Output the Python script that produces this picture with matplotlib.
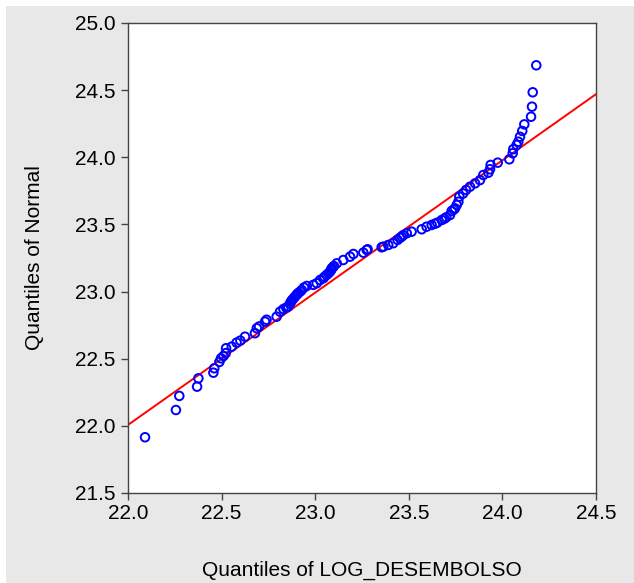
import matplotlib
matplotlib.use("Agg")
import matplotlib.pyplot as plt
from matplotlib.patches import Rectangle

x_quant = [22.091, 22.256, 22.274, 22.369, 22.376, 22.456, 22.461, 22.488, 22.497, 22.510,
           22.522, 22.524, 22.554, 22.580, 22.600, 22.625, 22.678, 22.688, 22.700, 22.732,
           22.740, 22.794, 22.812, 22.830, 22.845, 22.856, 22.865, 22.870, 22.874, 22.880,
           22.885, 22.892, 22.900, 22.905, 22.910, 22.920, 22.928, 22.940, 22.955, 22.990,
           23.008, 23.026, 23.043, 23.050, 23.061, 23.070, 23.079, 23.085, 23.088, 23.095,
           23.100, 23.115, 23.150, 23.186, 23.204, 23.257, 23.275, 23.280, 23.355, 23.364,
           23.390, 23.417, 23.440, 23.453, 23.462, 23.470, 23.489, 23.515, 23.569, 23.595,
           23.622, 23.640, 23.652, 23.676, 23.690, 23.700, 23.720, 23.729, 23.740, 23.747,
           23.756, 23.765, 23.770, 23.790, 23.806, 23.827, 23.854, 23.880, 23.898, 23.925,
           23.934, 23.937, 23.975, 24.037, 24.055, 24.058, 24.076, 24.085, 24.094, 24.106,
           24.117, 24.153, 24.158, 24.162, 24.181]
y_quant = [21.915, 22.118, 22.223, 22.292, 22.354, 22.396, 22.429, 22.476, 22.503, 22.520,
           22.541, 22.578, 22.590, 22.620, 22.635, 22.664, 22.690, 22.727, 22.740, 22.776,
           22.790, 22.813, 22.850, 22.870, 22.880, 22.888, 22.910, 22.922, 22.932, 22.942,
           22.950, 22.962, 22.975, 22.982, 22.990, 23.000, 23.012, 23.030, 23.042, 23.050,
           23.062, 23.086, 23.099, 23.110, 23.124, 23.135, 23.148, 23.160, 23.173, 23.182,
           23.190, 23.210, 23.235, 23.260, 23.280, 23.290, 23.310, 23.315, 23.330, 23.335,
           23.347, 23.360, 23.385, 23.400, 23.409, 23.420, 23.434, 23.446, 23.464, 23.483,
           23.496, 23.505, 23.513, 23.533, 23.543, 23.553, 23.570, 23.600, 23.610, 23.620,
           23.645, 23.669, 23.707, 23.730, 23.757, 23.781, 23.806, 23.830, 23.868, 23.885,
           23.911, 23.943, 23.960, 23.985, 24.030, 24.060, 24.092, 24.116, 24.153, 24.196,
           24.245, 24.302, 24.377, 24.484, 24.685]

# Reference line (end points at the x-axis limits)
line_x = [22.0, 24.5]
line_y = [22.007, 24.470]

x_ticks = [22.0, 22.5, 23.0, 23.5, 24.0, 24.5]
y_ticks = [21.5, 22.0, 22.5, 23.0, 23.5, 24.0, 24.5, 25.0]

plt.rcParams['font.family'] = ['Liberation Sans', 'DejaVu Sans']

W, H = 634, 583
fig = plt.figure(figsize=(W / 100, H / 100), dpi=100)
fig.patch.set_facecolor('white')
fig.patches.append(Rectangle((6 / W, 0), 1 - 6 / W, 1 - 6 / H, transform=fig.transFigure,
                             facecolor='#e8e8e8', edgecolor='none', zorder=-10))

ax = fig.add_axes([128 / W, 1 - 493 / H, (596 - 128) / W, (493 - 23) / H])
ax.set_facecolor('white')

ax.plot(line_x, line_y, color='#ff0000', lw=1.4, zorder=2)
ax.scatter(x_quant, y_quant, s=38, facecolors='none', edgecolors='#0000ff',
           linewidths=1.4, zorder=3)

ax.set_xlim(22.0, 24.5)
ax.set_ylim(21.5, 25.0)
ax.set_xticks(x_ticks)
ax.set_yticks(y_ticks)
ax.set_xticklabels([f"{v:.1f}" for v in x_ticks])
ax.set_yticklabels([f"{v:.1f}" for v in y_ticks])
ax.tick_params(direction='out', length=5, width=1, labelsize=15, colors='#444444',
               labelcolor='black')
ax.tick_params(axis='x', pad=3)
ax.tick_params(axis='y', pad=4)
for s in ax.spines.values():
    s.set_color('#444444')
    s.set_linewidth(1)

ax.set_xlabel('Quantiles of LOG_DESEMBOLSO', fontsize=15, labelpad=27)
ax.set_ylabel('Quantiles of Normal', fontsize=15, labelpad=22)

fig.savefig('out.png', dpi=100, facecolor=fig.get_facecolor())
